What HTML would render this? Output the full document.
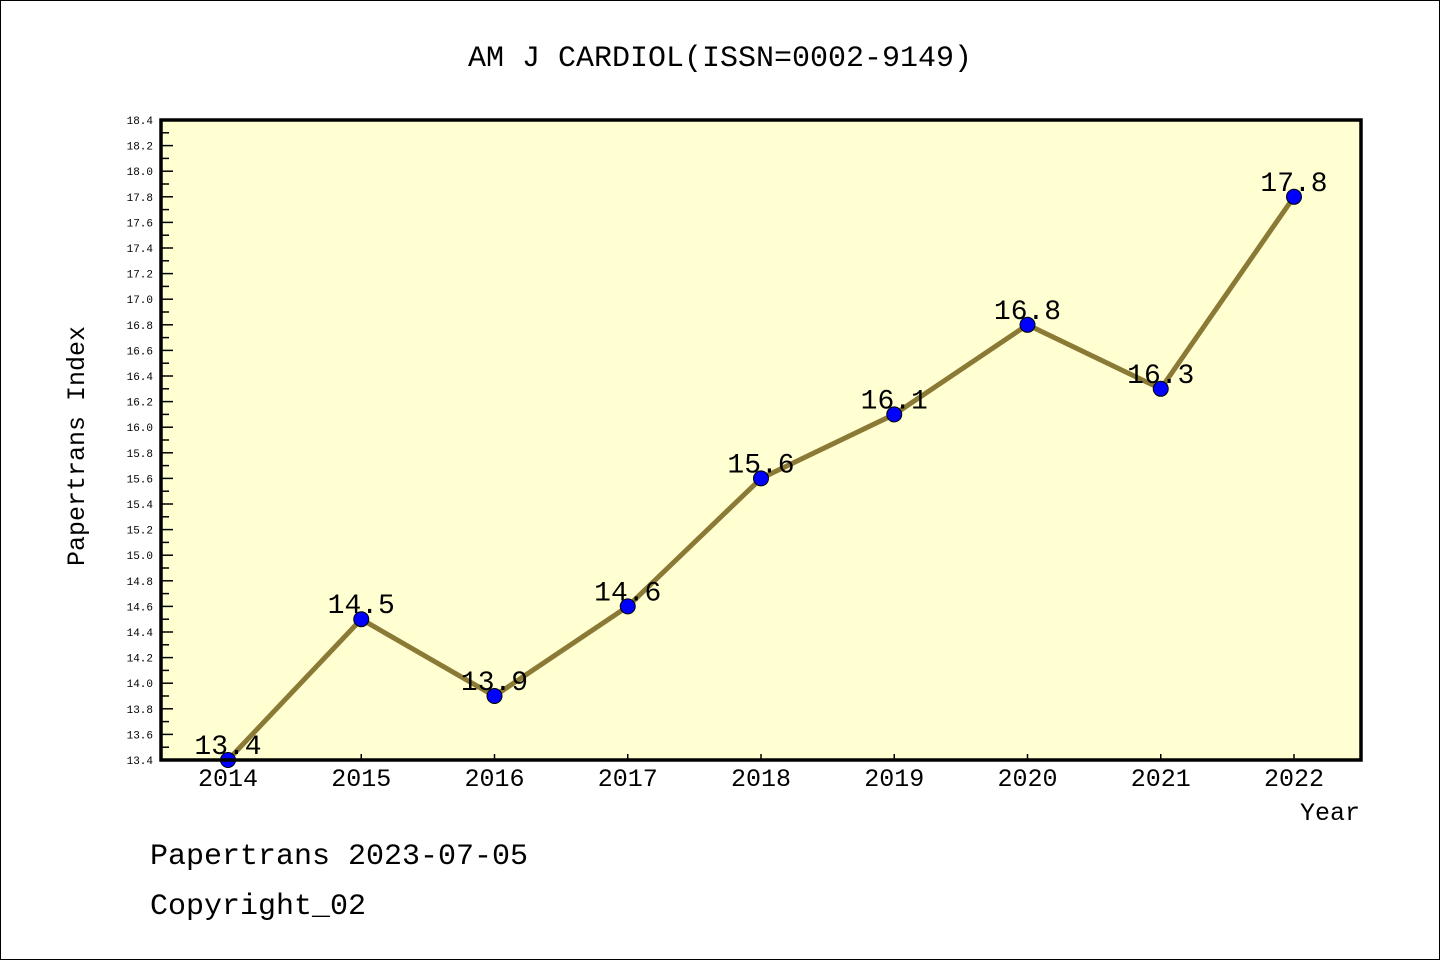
<!DOCTYPE html>
<html><head><meta charset="utf-8"><style>
body{margin:0;background:#fff}
svg{display:block}
text{font-family:"Liberation Mono","DejaVu Sans Mono",monospace;fill:#000}
</style></head><body>
<svg width="1440" height="960">
<rect x="0.5" y="0.5" width="1439" height="959" fill="#fff" stroke="#000"/>
<text x="720" y="66" text-anchor="middle" font-size="30">AM J CARDIOL(ISSN=0002-9149)</text>
<rect x="161" y="120" width="1200" height="640" fill="#ffffd2"/>
<g id="ticks"></g>
<g id="series"></g>
<rect x="161" y="120" width="1200" height="640" fill="none" stroke="#000" stroke-width="3.5"/>
<text transform="translate(84,446) rotate(-90)" text-anchor="middle" font-size="25">Papertrans Index</text>
<text x="1360" y="820" text-anchor="end" font-size="25">Year</text>
<text x="150" y="864" font-size="30">Papertrans 2023-07-05</text>
<text x="150" y="914" font-size="30">Copyright_02</text>
</svg>
<script>
const years=[2014,2015,2016,2017,2018,2019,2020,2021,2022];
const values=[13.4,14.5,13.9,14.6,15.6,16.1,16.8,16.3,17.8];
const labels=["13.4","14.5","13.9","14.6","15.6","16.1","16.8","16.3","17.8"];
const yMin=13.4,yMax=18.4;
const NS="http://www.w3.org/2000/svg";
function X(i){return 228+i*(1294-228)/(years.length-1);}
function Y(v){return 760-(v-yMin)/(yMax-yMin)*640;}
function mk(t,a,p){const e=document.createElementNS(NS,t);for(const k in a)e.setAttribute(k,a[k]);p.appendChild(e);return e;}
const tg=document.getElementById('ticks');
for(let k=0;k<=50;k++){
  const v=yMin+k*0.1,y=Y(v),major=k%2===0;
  const l=mk('line',{x1:161,x2:161+(major?12:8),y1:y,y2:y,stroke:'#000','stroke-width':1.5},tg);
  
  
  if(major){const t=mk('text',{x:153,y:y+4,'text-anchor':'end','font-size':11,'font-family':'Liberation Sans, sans-serif'},tg);t.textContent=v.toFixed(1);
  
  }
}
years.forEach((yr,i)=>{
  const x=X(i);
  const l=mk('line',{x1:x,x2:x,y1:760,y2:754,stroke:'#000','stroke-width':1.5},tg);
  
  
  const t=mk('text',{x:x,y:786,'text-anchor':'middle','font-size':25,'font-family':'Liberation Sans, sans-serif'},tg);t.textContent=yr;
  
  
});
const sg=document.getElementById('series');
const pl=mk('polyline',{points:values.map((v,i)=>X(i)+','+Y(v)).join(' '),fill:'none',stroke:'#8b7a35','stroke-width':5},sg);


values.forEach((v,i)=>{
  const c=mk('circle',{cx:X(i),cy:Y(v),r:7.5,fill:'#0000ff',stroke:'#000','stroke-width':1},sg);
  
  
  const t=mk('text',{x:X(i),y:Y(v)-6,'text-anchor':'middle','font-size':28,'font-family':'Liberation Sans, sans-serif'},sg);t.textContent=labels[i];
  
  
});
</script>
</body></html>
